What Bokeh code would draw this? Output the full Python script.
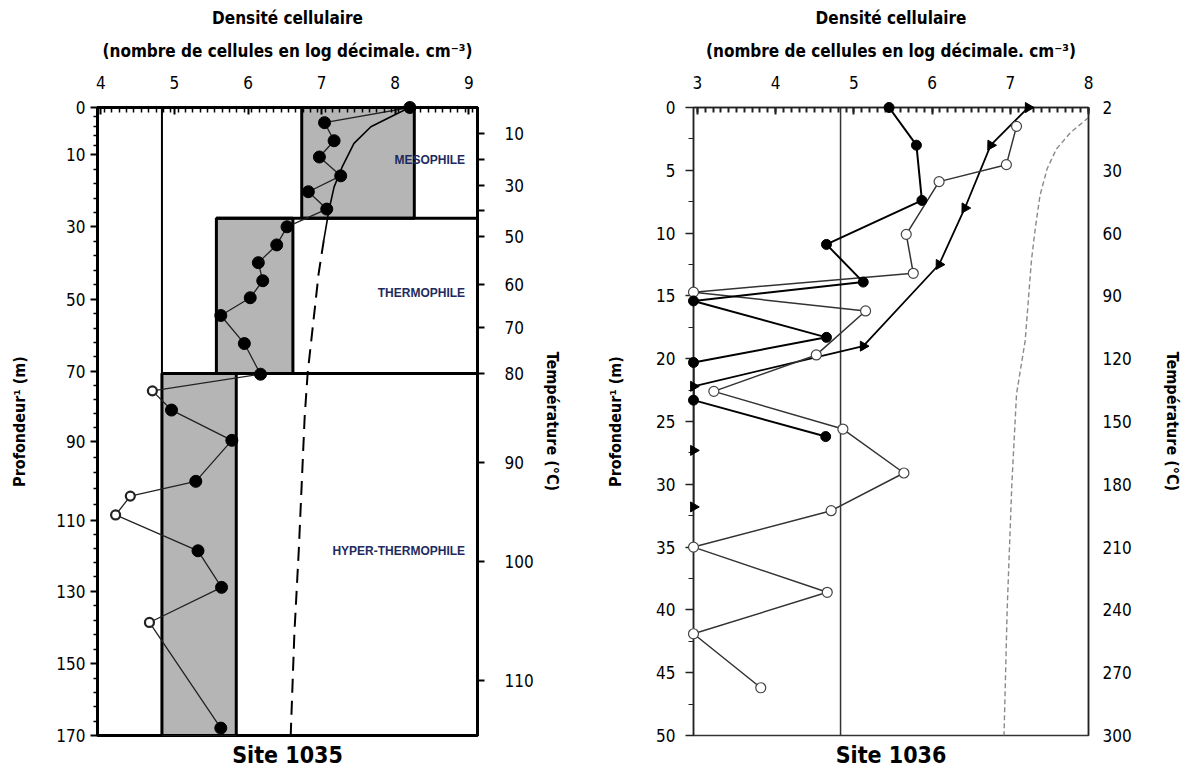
import math
from bokeh.plotting import figure
from bokeh.models import FixedTicker, LinearAxis, Range1d, Title
from bokeh.layouts import row
from bokeh.embed import file_html
from bokeh.resources import INLINE
from bokeh.core.properties import value

NARROW = "Liberation Sans Narrow, DejaVu Sans Condensed, Liberation Sans, sans-serif"

# ---------------- Site 1035 data ----------------
s1035_depth = [0, 4.1, 9.0, 13.4, 18.5, 22.8, 27.5, 32.3, 37.2, 42.0, 46.9, 51.5, 56.3,
               63.9, 72.2, 76.7, 81.9, 90.1, 101.2, 105.2, 110.3, 120.0, 129.9, 139.4, 168.0]
s1035_density = [8.2, 7.04, 7.17, 6.97, 7.26, 6.82, 7.07, 6.53, 6.39, 6.14, 6.2, 6.03, 5.63,
                 5.95, 6.17, 4.70, 4.96, 5.78, 5.29, 4.40, 4.20, 5.32, 5.64, 4.66, 5.63]
s1035_open = [False] * 15 + [True, False, False, False, True, True, False, False, True, False]

t1035_depth = [0.3, 1.6, 5.2, 9.7, 16.1, 21.5, 27.8, 35.9, 44.9, 52.2, 61.2, 72.0, 83.7,
               101.8, 119.8, 142.4, 170]
t1035_density = [8.17, 8.03, 7.67, 7.44, 7.28, 7.17, 7.10, 7.03, 6.96, 6.92, 6.87, 6.81, 6.77,
                 6.73, 6.69, 6.63, 6.58]

zone_name = ["MESOPHILE", "THERMOPHILE", "HYPER-THERMOPHILE"]
zone_xmin = [6.73, 5.57, 4.83]
zone_xmax = [8.26, 6.61, 5.84]
zone_top = [0, 30, 72]
zone_bottom = [30, 72, 170]
zone_label_depth = [14.3, 50.3, 120.0]
ref_line_1035 = 4.83

depth1035_labels = ["0", "10", "30", "50", "70", "90", "110", "130", "150", "170"]
depth1035_pos = [0, 12.8, 32.3, 51.9, 71.4, 90.4, 111.7, 130.9, 150.6, 170]
temp1035_values = [10, 20, 30, 40, 50, 60, 70, 80, 90, 100, 110]
temp1035_pos = [7, 14, 21, 28, 35, 48, 59.5, 72, 96, 123, 155]
dens1035_ticks = [4, 5, 6, 7, 8, 9]

# ---------------- Site 1036 data ----------------
f1036_depth = [0, 3.0, 7.4, 10.9, 13.9, 15.4, 18.3, 20.3, 23.3, 26.2]
f1036_density = [5.45, 5.8, 5.87, 4.65, 5.12, 2.95, 4.65, 2.95, 2.95, 4.64]
o1036_depth = [1.5, 4.55, 5.9, 10.1, 13.2, 14.7, 16.2, 19.7, 22.6, 25.6, 29.1, 32.1, 35.0,
               38.6, 41.9, 46.2]
o1036_density = [7.08, 6.95, 6.09, 5.67, 5.76, 2.95, 5.15, 4.52, 3.21, 4.86, 5.64, 4.71, 2.95,
                 4.66, 2.95, 3.81]
tr1036_depth = [0, 3.0, 8.0, 12.5, 19.0, 22.2, 27.3, 31.8]
tr1036_density = [7.23, 6.75, 6.42, 6.09, 5.12, 2.95, 2.95, 2.95]
t1036_depth = [0.8, 2, 3.3, 4.9, 7, 9.6, 12.2, 15.4, 18.6, 22.8, 30, 40, 50]
t1036_density = [8.0, 7.77, 7.59, 7.47, 7.38, 7.32, 7.27, 7.23, 7.19, 7.08, 7.02, 6.96, 6.92]
ref_line_1036 = 4.83
depth1036_ticks = [0, 5, 10, 15, 20, 25, 30, 35, 40, 45, 50]
temp1036_labels = ["2", "30", "60", "90", "120", "150", "180", "210", "240", "270", "300"]
dens1036_ticks = [3, 4, 5, 6, 7, 8]

TITLE1 = "Densité cellulaire"
TITLE2 = "(nombre de cellules en log décimale. cm⁻³)"
YTITLE = "Profondeur¹ (m)"
RTITLE = "Température (°C)"


def minor_between(ticks, n):
    out = []
    for a, b in zip(ticks[:-1], ticks[1:]):
        for k in range(1, n):
            out.append(a + (b - a) * k / n)
    return out


def style_axis(ax, lw, color):
    ax.axis_line_width = lw
    ax.axis_line_color = color
    ax.major_tick_line_width = lw if lw < 2 else 2
    ax.major_tick_line_color = color
    ax.minor_tick_line_color = color
    ax.minor_tick_line_width = 1.5 if lw >= 2 else 1
    ax.major_label_text_font = NARROW
    ax.major_label_text_font_size = "17px"
    ax.major_label_text_color = "black"
    ax.axis_label_text_font = NARROW
    ax.axis_label_text_font_size = "16px"
    ax.axis_label_text_font_style = "bold"
    ax.axis_label_text_color = "black"


def add_titles(p, site):
    p.add_layout(Title(text=TITLE2, align="center", text_font=NARROW, text_font_size="17px",
                       text_font_style="bold", text_color="black", standoff=24), "above")
    p.add_layout(Title(text=TITLE1, align="center", text_font=NARROW, text_font_size="17px",
                       text_font_style="bold", text_color="black", standoff=-3), "above")
    p.add_layout(Title(text=site, align="center", text_font=NARROW, text_font_size="23px",
                       text_font_style="bold", text_color="black", standoff=9), "below")


# ================= Figure 1 : Site 1035 =================
p1 = figure(width=580, height=778, x_range=Range1d(3.954, 9.119), y_range=Range1d(170, 0),
            x_axis_location="above", output_backend="svg", toolbar_location=None,
            min_border_left=97, min_border_right=103, min_border_top=107, min_border_bottom=43)
p1.grid.visible = False
p1.outline_line_color = "black"
p1.outline_line_width = 3

xa = p1.xaxis[0]
xa.ticker = FixedTicker(ticks=dens1035_ticks,
                        minor_ticks=[3.95 + 0.1 * i for i in range(52)])
style_axis(xa, 3, "black")
xa.major_tick_in = 7
xa.major_tick_out = 0
xa.minor_tick_in = 5
xa.minor_tick_out = 0
xa.major_label_standoff = 19

ya = p1.yaxis[0]
ya.ticker = FixedTicker(ticks=depth1035_pos, minor_ticks=minor_between(depth1035_pos, 5))
ya.major_label_overrides = {pos: lab for pos, lab in zip(depth1035_pos, depth1035_labels)}
style_axis(ya, 3, "black")
ya.major_tick_in = 0
ya.major_tick_out = 7
ya.minor_tick_in = 0
ya.minor_tick_out = 4
ya.major_label_standoff = 5
ya.axis_label = YTITLE
ya.axis_label_standoff = 24

ra = LinearAxis(ticker=FixedTicker(ticks=temp1035_pos, minor_ticks=[]))
ra.major_label_overrides = {pos: ("" if v in (20, 40) else str(v))
                            for pos, v in zip(temp1035_pos, temp1035_values)}
style_axis(ra, 3, "black")
ra.major_tick_in = 0
ra.major_tick_out = 7
ra.major_label_standoff = 20
ra.axis_label = RTITLE
ra.axis_label_standoff = 6
p1.add_layout(ra, "right")

# zone boxes
p1.quad(left=zone_xmin, right=zone_xmax, top=zone_top, bottom=zone_bottom,
        fill_color="#b5b5b5", line_color="black", line_width=3)
# reference vertical line
p1.segment(x0=[ref_line_1035], x1=[ref_line_1035], y0=[0], y1=[170], line_color="black",
           line_width=2)
# zone limits extended to the right edge
xend1 = p1.x_range.end
p1.segment(x0=zone_xmin[1:], x1=[xend1] * 2, y0=zone_top[1:], y1=zone_top[1:],
           line_color="black", line_width=3)
# zone labels
p1.text(x=[8.95] * 3, y=zone_label_depth, text=zone_name, text_align="right",
        text_baseline="middle", text_font=value("Liberation Sans"), text_font_size="12px",
        text_font_style="bold", text_color="#1e2b5e")

# temperature curve (solid at top, dashed below)
split = 7
p1.line(t1035_density[:split + 1], t1035_depth[:split + 1], line_color="black", line_width=1.6)
p1.line(t1035_density[split:], t1035_depth[split:], line_color="black", line_width=2,
        line_dash="14 8")

# cell density profile
p1.line(s1035_density, s1035_depth, line_color="#222222", line_width=1.3)
fx = [x for x, o in zip(s1035_density, s1035_open) if not o]
fy = [y for y, o in zip(s1035_depth, s1035_open) if not o]
ox = [x for x, o in zip(s1035_density, s1035_open) if o]
oy = [y for y, o in zip(s1035_depth, s1035_open) if o]
p1.scatter(fx, fy, marker="circle", size=12, fill_color="black", line_color="black",
           level="overlay")
p1.scatter(ox, oy, marker="circle", size=9, fill_color="white", line_color="#222222",
           line_width=2.2, level="overlay")

add_titles(p1, "Site 1035")

# ================= Figure 2 : Site 1036 =================
p2 = figure(width=607, height=778, x_range=Range1d(2.95, 8.0), y_range=Range1d(50, 0),
            x_axis_location="above", output_backend="svg", toolbar_location=None,
            min_border_left=113, min_border_right=99, min_border_top=107, min_border_bottom=43)
p2.grid.visible = False
p2.outline_line_color = "#333333"
p2.outline_line_width = 1.5

xb = p2.xaxis[0]
xb.ticker = FixedTicker(ticks=dens1036_ticks, minor_ticks=[3 + 0.1 * i for i in range(51)])
style_axis(xb, 1.5, "#222222")
xb.major_tick_line_width = 2
xb.major_tick_in = 7
xb.major_tick_out = 0
xb.minor_tick_in = 5
xb.minor_tick_out = 0
xb.minor_tick_line_width = 2
xb.major_label_standoff = 19

yb = p2.yaxis[0]
yb.ticker = FixedTicker(ticks=depth1036_ticks, minor_ticks=minor_between(depth1036_ticks, 2))
style_axis(yb, 1.5, "#222222")
yb.major_tick_in = 0
yb.major_tick_out = 8
yb.minor_tick_in = 0
yb.minor_tick_out = 5
yb.major_label_standoff = 10
yb.axis_label = YTITLE
yb.axis_label_standoff = 28

rb = LinearAxis(ticker=FixedTicker(ticks=depth1036_ticks, minor_ticks=[]))
rb.major_label_overrides = {d: lab for d, lab in zip(depth1036_ticks, temp1036_labels)}
style_axis(rb, 1.5, "#222222")
rb.major_tick_in = 0
rb.major_tick_out = 0
rb.major_label_standoff = 14
rb.axis_label = RTITLE
rb.axis_label_standoff = 28
p2.add_layout(rb, "right")

p2.segment(x0=[ref_line_1036], x1=[ref_line_1036], y0=[0], y1=[50], line_color="#333333",
           line_width=1.5)
p2.line(t1036_density, t1036_depth, line_color="#8a8a8a", line_width=1.4, line_dash="5 3")

p2.line(tr1036_density, tr1036_depth, line_color="black", line_width=1.8)
tri_angle = [-math.pi / 2, 2.6, 2.6, 2.6, -math.pi / 2, -math.pi / 2, -math.pi / 2, -math.pi / 2]
p2.scatter(tr1036_density, tr1036_depth, marker="triangle", size=10, angle=tri_angle,
           fill_color="black", line_color="black", level="overlay")

p2.line(o1036_density, o1036_depth, line_color="#333333", line_width=1.5)
p2.scatter(o1036_density, o1036_depth, marker="circle", size=10, fill_color="white",
           line_color="#444444", line_width=1.2, level="overlay")

p2.line(f1036_density, f1036_depth, line_color="black", line_width=2)
p2.scatter(f1036_density, f1036_depth, marker="circle", size=10, fill_color="black",
           line_color="black", level="overlay")

add_titles(p2, "Site 1036")

layout = row(p1, p2)
open("out.html", "w").write(file_html(layout, INLINE))
